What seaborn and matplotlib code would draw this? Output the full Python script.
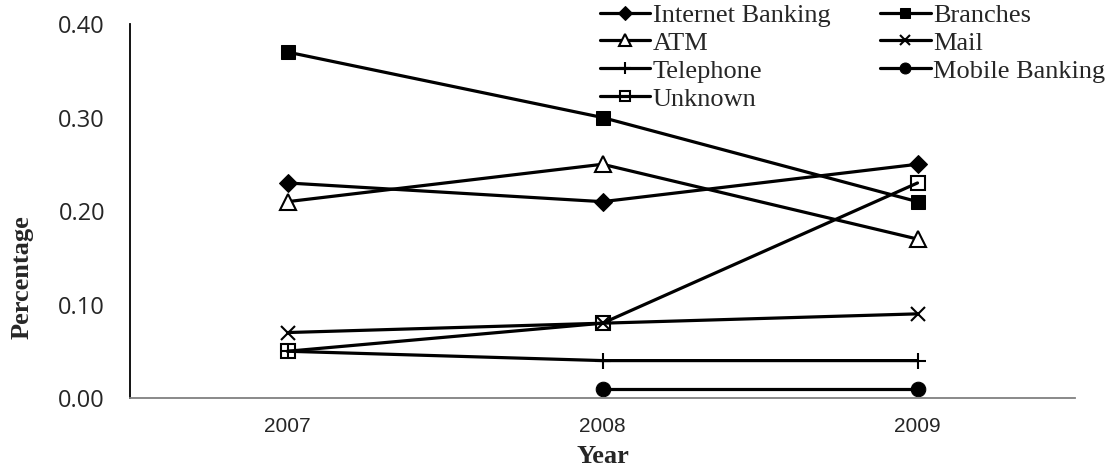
import numpy as np
import pandas as pd
import matplotlib
matplotlib.use("Agg")
import matplotlib.pyplot as plt
import seaborn as sns

years = ["2007", "2008", "2009"]
internet_banking = [0.23, 0.21, 0.25]
branches = [0.37, 0.30, 0.21]
atm = [0.21, 0.25, 0.17]
mail = [0.07, 0.08, 0.09]
telephone = [0.05, 0.04, 0.04]
mobile_banking = [np.nan, 0.01, 0.01]
unknown = [0.05, 0.08, 0.23]
y_ticks = [0.0, 0.1, 0.2, 0.3, 0.4]

sns.set_theme(style="white")

fig = plt.figure(figsize=(11.17, 4.71), dpi=100)
ax = fig.add_axes([0.1164, 0.155, 0.846, 0.794])

series = [
    ("Internet Banking", internet_banking, dict(marker="D", ms=9.5, mfc="black", mec="black")),
    ("Branches", branches, dict(marker="s", ms=10, mfc="black", mec="black")),
    ("ATM", atm, dict(marker="^", ms=11, mfc="white", mec="black", mew=1.5)),
    ("Mail", mail, dict(marker="x", ms=10, mec="black", mew=1.5)),
    ("Telephone", telephone, dict(marker="+", ms=12, mec="black", mew=1.5)),
    ("Mobile Banking", mobile_banking, dict(marker="o", ms=10.5, mfc="black", mec="black")),
    ("Unknown", unknown, dict(marker="s", ms=10, mfc="none", mec="black", mew=1.5)),
]

xpos = np.arange(len(years))
for name, vals, kw in series:
    df = pd.DataFrame({"x": xpos, "y": vals}).dropna()
    sns.lineplot(data=df, x="x", y="y", color="black", linewidth=2.3,
                 label=name, ax=ax, **kw)

ax.set_xlim(-0.5, len(years) - 0.5)
ax.set_ylim(0, 0.4)
ax.set_xticks(xpos)
ax.set_xticklabels(years, fontfamily="Liberation Sans", fontsize=15)
ax.set_yticks(y_ticks)
ax.set_yticklabels([f"{v:.2f}" for v in y_ticks], fontfamily="Open Sans", fontsize=17)
ax.tick_params(axis="y", length=0, pad=18)
ax.tick_params(axis="x", length=0, pad=14)

for s in ["top", "right"]:
    ax.spines[s].set_visible(False)
ax.spines["left"].set_color("black")
ax.spines["left"].set_linewidth(1.3)
ax.spines["bottom"].set_color("#808080")
ax.spines["bottom"].set_linewidth(1.3)

ax.set_xlabel("Year", fontfamily="Liberation Serif", fontweight="bold", fontsize=19, labelpad=6)
ax.set_ylabel("Percentage", fontfamily="Liberation Serif", fontweight="bold", fontsize=19)
ax.yaxis.set_label_coords(-0.102, 0.324)

handles, labels = ax.get_legend_handles_labels()
order = [0, 2, 4, 6, 1, 3, 5]
leg = ax.legend([handles[i] for i in order], [labels[i] for i in order],
                ncol=2, loc="upper left", bbox_to_anchor=(0.537, 0.993),
                bbox_transform=fig.transFigure, frameon=False,
                prop={"family": "Liberation Serif", "size": 19},
                handlelength=1.9, handletextpad=0.1, labelspacing=0.17,
                columnspacing=1.9, borderpad=0, borderaxespad=0,
                markerscale=0.75)

fig.savefig("out.png", dpi=100)
